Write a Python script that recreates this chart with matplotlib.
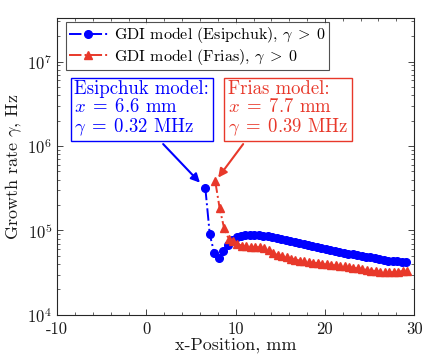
import numpy as np
import matplotlib
matplotlib.use("Agg")
import matplotlib.pyplot as plt
from matplotlib.ticker import LogLocator, MultipleLocator, NullFormatter

plt.rcParams['font.family'] = 'cmr10'
plt.rcParams['mathtext.fontset'] = 'cm'
plt.rcParams['axes.unicode_minus'] = False
plt.rcParams['axes.formatter.use_mathtext'] = True

# Esipchuk model, gamma > 0
x_esip = [6.6, 7.1, 7.6, 8.1, 8.6, 9.1, 9.6, 10.1, 10.6, 11.1, 11.6, 12.1, 12.6,
          13.1, 13.6, 14.1, 14.6, 15.1, 15.6, 16.1, 16.6, 17.1, 17.6, 18.1, 18.6,
          19.1, 19.6, 20.1, 20.6, 21.1, 21.6, 22.1, 22.6, 23.1, 23.6, 24.1, 24.6,
          25.1, 25.6, 26.1, 26.6, 27.1, 27.6, 28.1, 28.6, 29.1]
g_esip = [3.2e5, 9.0e4, 5.4e4, 4.7e4, 5.7e4, 6.8e4, 7.8e4, 8.4e4, 8.7e4, 8.9e4,
          8.9e4, 8.9e4, 8.8e4, 8.6e4, 8.5e4, 8.3e4, 8.1e4, 7.9e4, 7.7e4, 7.5e4,
          7.3e4, 7.1e4, 6.9e4, 6.7e4, 6.5e4, 6.3e4, 6.15e4, 6.0e4, 5.85e4, 5.7e4,
          5.55e4, 5.45e4, 5.3e4, 5.2e4, 5.1e4, 5.0e4, 4.9e4, 4.8e4, 4.7e4, 4.6e4,
          4.5e4, 4.4e4, 4.35e4, 4.3e4, 4.25e4, 4.25e4]

# Frias model, gamma > 0
x_frias = [7.7, 8.2, 8.7, 9.2, 9.7, 10.2, 10.7, 11.2, 11.7, 12.2, 12.7, 13.2, 13.7,
           14.2, 14.7, 15.2, 15.7, 16.2, 16.7, 17.2, 17.7, 18.2, 18.7, 19.2, 19.7,
           20.2, 20.7, 21.2, 21.7, 22.2, 22.7, 23.2, 23.7, 24.2, 24.7, 25.2, 25.7,
           26.2, 26.7, 27.2, 27.7, 28.2, 28.7, 29.2]
g_frias = [3.9e5, 1.85e5, 1.07e5, 8.0e4, 7.4e4, 6.9e4, 6.6e4, 6.5e4, 6.4e4, 6.35e4,
           6.3e4, 6.15e4, 5.8e4, 5.4e4, 5.1e4, 4.95e4, 4.8e4, 4.65e4, 4.5e4, 4.4e4,
           4.3e4, 4.2e4, 4.15e4, 4.1e4, 4.0e4, 3.95e4, 3.9e4, 3.85e4, 3.8e4, 3.75e4,
           3.7e4, 3.6e4, 3.55e4, 3.5e4, 3.4e4, 3.35e4, 3.3e4, 3.25e4, 3.2e4, 3.2e4,
           3.2e4, 3.25e4, 3.3e4, 3.35e4]

x_ticks = [-10, 0, 10, 20, 30]
x_labels = ['-10', '0', '10', '20', '30']

blue = '#0000ff'
red = '#e8382a'

fig = plt.figure(figsize=(4.36, 3.64), dpi=100)
ax = fig.add_axes([0.131, 0.135, 0.819, 0.816])

ax.plot(x_esip, g_esip, '-.', color=blue, marker='o', markersize=5.5, lw=1.4,
        label=r'GDI model (Esipchuk), $\gamma\;>\;0$')
ax.plot(x_frias, g_frias, '-.', color=red, marker='^', markersize=6, lw=1.4,
        label=r'GDI model (Frias), $\gamma\;>\;0$')

ax.set_yscale('log')
ax.set_xlim(-10, 30)
ax.set_ylim(1e4, 3.3e7)
ax.set_xticks(x_ticks)
ax.set_xticklabels(x_labels)
ax.xaxis.set_minor_locator(MultipleLocator(2))
ax.yaxis.set_major_locator(LogLocator(base=10, numticks=10))
ax.yaxis.set_minor_locator(LogLocator(base=10, subs=np.arange(2, 10), numticks=10))
ax.yaxis.set_minor_formatter(NullFormatter())

for sp in ax.spines.values():
    sp.set_color('#262626')
    sp.set_linewidth(0.8)
ax.tick_params(which='both', direction='in', top=True, right=True, colors='#262626',
               labelsize=12, labelcolor='#1a1a1a')
ax.tick_params(which='major', length=4, width=0.6)
ax.tick_params(which='minor', length=2.5, width=0.5)
ax.tick_params(axis='x', pad=5)

ax.set_xlabel('x-Position, mm', fontsize=13, color='#1a1a1a', labelpad=0)
ax.set_ylabel(r'Growth rate $\gamma$, Hz', fontsize=13, color='#1a1a1a', labelpad=2)

leg = ax.legend(loc='upper left', bbox_to_anchor=(0.025, 0.985), fontsize=11.5,
                frameon=True, fancybox=False, edgecolor='#262626',
                borderpad=0.2, handlelength=2.4, handletextpad=0.4,
                labelspacing=0.1, borderaxespad=0)
leg.get_frame().set_linewidth(0.8)

ax.text(0.048, 0.79, 'Esipchuk model:\n$x\\;=\\;6.6$ mm\n$\\gamma\\;=\\;0.32$ MHz',
        transform=ax.transAxes, ha='left', va='top', fontsize=13.5, color=blue,
        linespacing=1.0,
        bbox=dict(boxstyle='square,pad=0.2', fc='white', ec=blue, lw=1))
ax.text(0.478, 0.79, 'Frias model:\n$x\\;=\\;7.7$ mm\n$\\gamma\\;=\\;0.39$ MHz',
        transform=ax.transAxes, ha='left', va='top', fontsize=13.5, color=red,
        linespacing=1.0,
        bbox=dict(boxstyle='square,pad=0.2', fc='white', ec=red, lw=1))

ax.annotate('', xy=(0.40, 0.445), xytext=(0.297, 0.575), xycoords='axes fraction',
            arrowprops=dict(arrowstyle='-|>', color=blue, lw=1.5, mutation_scale=13,
                            shrinkA=0, shrinkB=0))
ax.annotate('', xy=(0.451, 0.462), xytext=(0.521, 0.575), xycoords='axes fraction',
            arrowprops=dict(arrowstyle='-|>', color=red, lw=1.5, mutation_scale=13,
                            shrinkA=0, shrinkB=0))

fig.savefig('out.png', dpi=100)
